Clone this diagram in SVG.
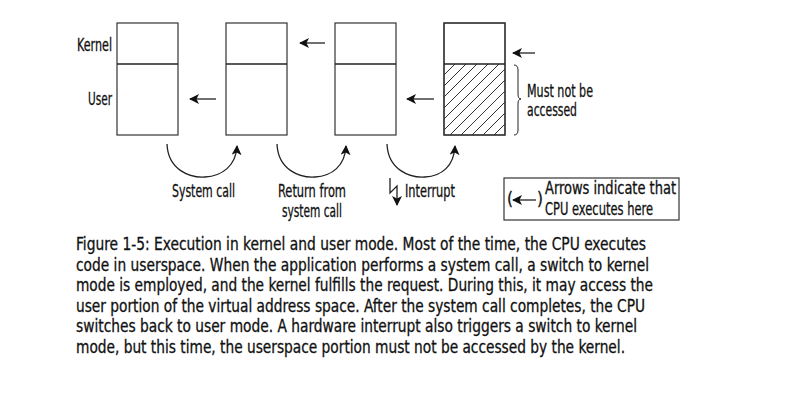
<svg xmlns="http://www.w3.org/2000/svg" width="800" height="407" viewBox="0 0 800 407">
<style>
text{font-family:"Liberation Sans Narrow","DejaVu Sans Condensed","Liberation Sans",sans-serif;fill:#111;stroke:#111;stroke-width:0.3}
.lbl{font-size:17px}
.cap{font-size:17.5px}
.box{fill:#fff;stroke:#333;stroke-width:1.2}
.ln{fill:none;stroke:#222;stroke-width:1.3}
.hat{fill:none;stroke:#333;stroke-width:1}
</style>
<defs>
<marker id="ah" viewBox="0 0 10 10" refX="9" refY="5" markerWidth="10" markerHeight="10" markerUnits="userSpaceOnUse" orient="auto">
<path d="M0,0 L10,5 L0,10 L2.5,5 Z" fill="#111"/>
</marker>
<clipPath id="hc"><rect x="444" y="64" width="61" height="71"/></clipPath>
</defs>
<rect width="800" height="407" fill="#fff"/>
<g id="labels">
<text class="lbl" x="77" y="51" textLength="35" lengthAdjust="spacingAndGlyphs">Kernel</text>
<text class="lbl" x="88" y="105" textLength="24" lengthAdjust="spacingAndGlyphs">User</text>
</g>
<g id="box1"><rect class="box" x="117" y="23" width="61" height="112"/><line class="ln" x1="117" y1="64" x2="178" y2="64"/></g>
<g id="box2"><rect class="box" x="226" y="23" width="61" height="112"/><line class="ln" x1="226" y1="64" x2="287" y2="64"/></g>
<g id="box3"><rect class="box" x="335" y="23" width="61" height="112"/><line class="ln" x1="335" y1="64" x2="396" y2="64"/></g>
<g id="box4"><rect class="box" x="444" y="23" width="61" height="112"/>
<g clip-path="url(#hc)" class="hat">
<path d="M444,75 L455,64 M444,86 L466,64 M444,97 L477,64 M444,108 L488,64 M444,119 L499,64 M444,130 L510,64 M450,135 L521,64 M461,135 L532,64 M472,135 L543,64 M483,135 L554,64 M494,135 L565,64"/>
</g>
<rect x="444" y="23" width="61" height="112" style="fill:none;stroke:#333;stroke-width:1.2"/>
<line class="ln" x1="444" y1="64" x2="505" y2="64"/></g>
<g id="brace"><path class="ln" style="stroke-width:1" d="M514,65 Q518,65 518,70 L518,94 Q518,99 521,99 Q518,99 518,104 L518,130 Q518,135 514,135"/>
<text class="lbl" x="527" y="97" textLength="66" lengthAdjust="spacingAndGlyphs">Must not be</text>
<text class="lbl" x="527" y="116" textLength="50" lengthAdjust="spacingAndGlyphs">accessed</text></g>
<g id="connectors">
<line class="ln" x1="216" y1="99" x2="190" y2="99" marker-end="url(#ah)"/>
<line class="ln" x1="325" y1="43" x2="300" y2="43" marker-end="url(#ah)"/>
<line class="ln" x1="434" y1="99" x2="407" y2="99" marker-end="url(#ah)"/>
<line class="ln" x1="535" y1="53" x2="513" y2="53" marker-end="url(#ah)"/>
<path class="ln" d="M167,144 C168,170 190,178 205,177 C222,176 236,166 237,146" marker-end="url(#ah)"/>
<path class="ln" d="M277,144 C278,170 300,178 315,177 C332,176 345,166 346,146" marker-end="url(#ah)"/>
<path class="ln" d="M387,144 C388,170 410,178 425,177 C442,176 454,166 455,146" marker-end="url(#ah)"/>
<path class="ln" d="M390,178 L390,193 L397,186 L397,205" marker-end="url(#ah)"/>
</g>
<g id="switch-labels">
<text class="lbl" x="172" y="197" textLength="63" lengthAdjust="spacingAndGlyphs">System call</text>
<text class="lbl" x="278" y="197" textLength="68" lengthAdjust="spacingAndGlyphs">Return from</text>
<text class="lbl" x="282" y="217" textLength="60" lengthAdjust="spacingAndGlyphs">system call</text>
<text class="lbl" x="405" y="197" textLength="50" lengthAdjust="spacingAndGlyphs">Interrupt</text>
</g>
<g id="legend">
<rect class="box" x="504" y="178" width="175" height="42"/>
<text class="lbl" x="507" y="205">(</text>
<line class="ln" x1="536" y1="200" x2="513" y2="200" marker-end="url(#ah)"/>
<text class="lbl" x="537" y="205">)</text>
<text class="lbl" x="545" y="194" textLength="131" lengthAdjust="spacingAndGlyphs">Arrows indicate that</text>
<text class="lbl" x="545" y="215" textLength="108" lengthAdjust="spacingAndGlyphs">CPU executes here</text>
</g>
<g id="caption">
<text class="cap" x="76" y="250" textLength="570" lengthAdjust="spacingAndGlyphs">Figure 1-5: Execution in kernel and user mode. Most of the time, the CPU executes</text>
<text class="cap" x="76" y="270.5" textLength="573" lengthAdjust="spacingAndGlyphs">code in userspace. When the application performs a system call, a switch to kernel</text>
<text class="cap" x="76" y="291" textLength="577" lengthAdjust="spacingAndGlyphs">mode is employed, and the kernel fulfills the request. During this, it may access the</text>
<text class="cap" x="76" y="311.5" textLength="569" lengthAdjust="spacingAndGlyphs">user portion of the virtual address space. After the system call completes, the CPU</text>
<text class="cap" x="76" y="332" textLength="561" lengthAdjust="spacingAndGlyphs">switches back to user mode. A hardware interrupt also triggers a switch to kernel</text>
<text class="cap" x="76" y="352.5" textLength="549" lengthAdjust="spacingAndGlyphs">mode, but this time, the userspace portion must not be accessed by the kernel.</text>
</g>
</svg>
